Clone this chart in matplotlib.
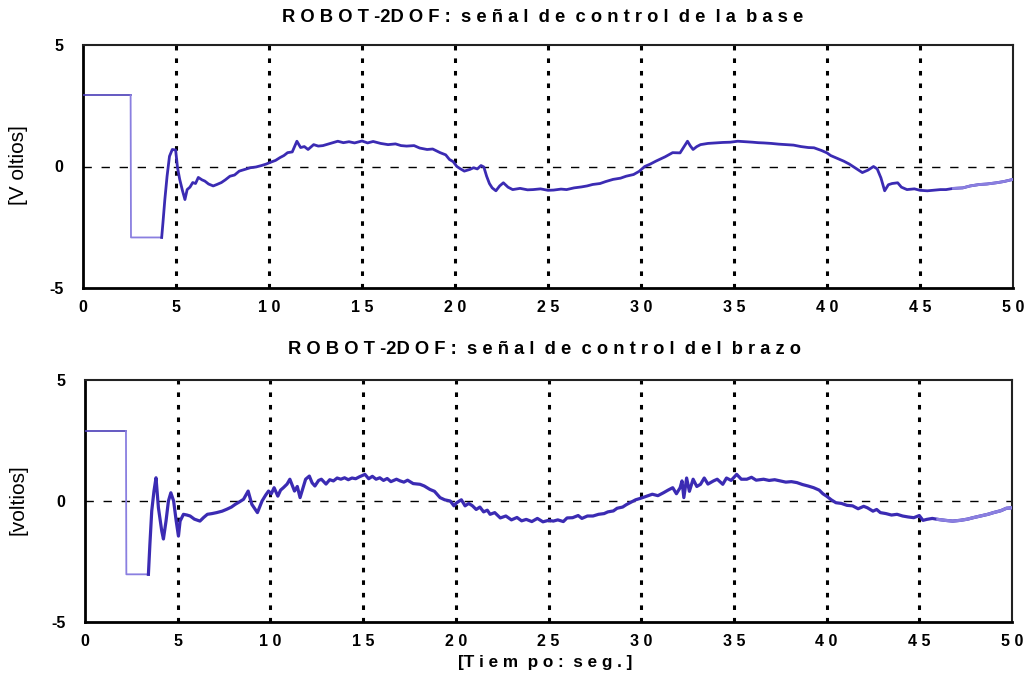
import numpy as np
import matplotlib
matplotlib.use("Agg")
import matplotlib.pyplot as plt

plt.rcParams['font.family'] = ['Liberation Sans', 'DejaVu Sans']

# --- señal de control de la base ---
t_base = [
    0.00, 2.56, 2.58, 4.23, 4.30, 4.40, 4.52, 4.65, 4.80, 4.98,
    5.08, 5.20, 5.35, 5.48, 5.60, 5.75, 5.90, 6.05, 6.20, 6.40,
    6.55, 6.75, 7.00, 7.20, 7.44, 7.65, 7.90, 8.15, 8.40, 8.70,
    9.00, 9.30, 9.60, 9.85, 10.10, 10.35, 10.60, 10.80, 11.00, 11.25,
    11.50, 11.70, 11.90, 12.10, 12.40, 12.65, 12.90, 13.30, 13.70,
    14.0, 14.3, 14.6, 15.0, 15.3, 15.6, 16.0, 16.4, 16.8, 17.1,
    17.4, 17.8, 18.1, 18.5, 18.8, 19.2, 19.5, 19.7, 19.9, 20.1,
    20.3, 20.5, 20.8, 21.0, 21.2, 21.4, 21.55, 21.7, 21.85, 22.0,
    22.2, 22.4, 22.6, 22.85, 23.1, 23.5, 23.9, 24.2, 24.6, 25.0,
    25.3, 25.7, 26.0, 26.4, 26.8, 27.1, 27.4, 27.8, 28.1, 28.5,
    28.9, 29.2, 29.6, 29.9, 30.2, 30.5, 30.8, 31.0, 31.3, 31.7,
    32.1, 32.3, 32.5, 32.65, 32.8, 33.0, 33.2, 33.6, 34.0, 34.4,
    34.8, 35.2, 35.6, 36.0, 36.3, 36.6, 37.0, 37.4, 37.8, 38.2,
    38.6, 39.0, 39.3, 39.7, 40.0, 40.2, 40.5, 40.9, 41.2, 41.4,
    41.65, 41.9, 42.2, 42.5, 42.7, 42.9, 43.1, 43.3, 43.5, 43.8,
    44.0, 44.3, 44.7, 45.0, 45.4, 45.8, 46.1, 46.4, 46.8, 47.3,
    47.7, 48.2, 48.6, 49.1, 49.5, 50.0,
]
u_base = [
    2.93, 2.93, -2.92, -2.92, -2.30, -1.36, -0.40, 0.42, 0.70, 0.68,
    -0.04, -0.53, -1.00, -1.36, -0.95, -0.85, -0.66, -0.70, -0.45, -0.55,
    -0.60, -0.72, -0.80, -0.74, -0.66, -0.55, -0.40, -0.35, -0.19, -0.12,
    -0.05, -0.02, 0.04, 0.10, 0.18, 0.25, 0.37, 0.45, 0.57, 0.60,
    1.04, 0.78, 0.82, 0.70, 0.90, 0.84, 0.86, 0.95, 1.04,
    0.98, 1.02, 0.97, 1.05, 0.97, 1.03, 0.95, 0.90, 0.93, 0.86,
    0.84, 0.86, 0.76, 0.70, 0.72, 0.57, 0.48, 0.29, 0.20, 0.00,
    -0.10, -0.19, -0.12, -0.05, -0.10, 0.04, -0.02, -0.40, -0.70, -0.88,
    -1.00, -0.80, -0.67, -0.85, -0.95, -0.90, -0.96, -0.95, -0.92, -0.98,
    -0.97, -0.93, -0.95, -0.88, -0.84, -0.80, -0.74, -0.70, -0.62, -0.53,
    -0.48, -0.40, -0.33, -0.20, 0.00, 0.10, 0.22, 0.29, 0.40, 0.57,
    0.56, 0.80, 1.04, 0.85, 0.70, 0.82, 0.90, 0.95, 0.97, 0.99,
    1.00, 1.04, 1.02, 1.00, 0.98, 0.97, 0.95, 0.92, 0.90, 0.88,
    0.82, 0.78, 0.77, 0.66, 0.56, 0.45, 0.35, 0.22, 0.10, 0.00,
    -0.12, -0.25, -0.15, 0.00, -0.10, -0.47, -1.00, -0.75, -0.70, -0.67,
    -0.85, -0.95, -0.92, -0.98, -1.00, -0.97, -0.95, -0.95, -0.90, -0.88,
    -0.80, -0.74, -0.72, -0.67, -0.62, -0.53,
]

# --- señal de control del brazo ---
t_brazo = [
    0.00, 2.21, 2.23, 3.42, 3.50, 3.60, 3.72, 3.83, 3.96, 4.14,
    4.23, 4.37, 4.50, 4.63, 4.78, 4.92, 5.04, 5.13, 5.31, 5.50,
    5.67, 5.90, 6.20, 6.40, 6.60, 6.85, 7.10, 7.40, 7.65, 7.90,
    8.10, 8.30, 8.55, 8.80, 9.00, 9.30, 9.55, 9.75, 9.90, 10.05,
    10.20, 10.40, 10.55, 10.70, 10.90, 11.05, 11.30, 11.45, 11.60, 11.90,
    12.10, 12.25, 12.40, 12.60, 12.75, 13.00, 13.20, 13.40, 13.60, 13.80,
    14.00, 14.20, 14.40, 14.60, 14.80, 15.10, 15.30, 15.50, 15.70, 15.90,
    16.10, 16.30, 16.50, 16.80, 17.00, 17.20, 17.40, 17.70, 18.07, 18.30,
    18.60, 18.85, 19.15, 19.40, 19.70, 19.90, 20.05, 20.30, 20.50, 20.70,
    20.90, 21.10, 21.30, 21.50, 21.70, 21.85, 22.10, 22.40, 22.70, 23.00,
    23.30, 23.55, 23.80, 24.10, 24.40, 24.70, 25.00, 25.26, 25.50, 25.80,
    26.00, 26.30, 26.60, 26.80, 27.10, 27.40, 27.70, 28.00, 28.20, 28.50,
    28.70, 29.00, 29.20, 29.40, 29.70, 30.00, 30.30, 30.60, 30.90, 31.20,
    31.45, 31.70, 31.90, 32.10, 32.20, 32.30, 32.45, 32.60, 32.80, 33.00,
    33.20, 33.40, 33.60, 33.90, 34.10, 34.40, 34.60, 34.85, 35.15, 35.40,
    35.70, 35.95, 36.20, 36.60, 36.90, 37.20, 37.50, 37.80, 38.10, 38.40,
    38.70, 39.00, 39.30, 39.60, 39.80, 40.00, 40.25, 40.50, 40.80, 41.10,
    41.40, 41.70, 42.00, 42.20, 42.50, 42.70, 42.90, 43.20, 43.50, 43.80,
    44.10, 44.40, 44.70, 45.00, 45.20, 45.40, 45.70, 46.00, 46.40, 46.80,
    47.20, 47.60, 47.90, 48.30, 48.70, 49.00, 49.40, 49.70, 50.00,
]
u_brazo = [
    2.89, 2.89, -3.03, -3.03, -1.79, -0.41, 0.41, 0.96, -0.28, -1.24,
    -1.57, -0.83, 0.00, 0.34, 0.00, -0.83, -1.45, -0.83, -0.55, -0.58,
    -0.62, -0.75, -0.83, -0.68, -0.55, -0.52, -0.48, -0.42, -0.34, -0.25,
    -0.14, -0.05, 0.07, 0.41, -0.14, -0.48, 0.00, 0.25, 0.41, 0.30,
    0.55, 0.20, 0.45, 0.55, 0.70, 0.90, 0.41, 0.60, 0.14, 0.90,
    1.03, 0.75, 0.62, 0.85, 0.90, 0.70, 0.88, 0.83, 0.95, 0.90,
    0.96, 0.88, 0.95, 0.92, 1.00, 1.10, 0.92, 1.02, 0.90, 0.96,
    0.85, 0.93, 0.80, 0.90, 0.83, 0.78, 0.86, 0.72, 0.69, 0.62,
    0.48, 0.40, 0.14, 0.05, 0.00, -0.20, -0.07, 0.05, -0.20, -0.10,
    -0.20, -0.35, -0.25, -0.45, -0.38, -0.55, -0.48, -0.70, -0.62, -0.78,
    -0.68, -0.82, -0.76, -0.85, -0.72, -0.86, -0.80, -0.83, -0.78, -0.85,
    -0.70, -0.69, -0.60, -0.72, -0.62, -0.62, -0.55, -0.52, -0.45, -0.41,
    -0.30, -0.25, -0.15, -0.07, 0.05, 0.12, 0.20, 0.28, 0.22, 0.34,
    0.45, 0.55, 0.30, 0.55, 0.83, 0.14, 0.95, 0.40, 0.90, 0.60,
    0.69, 0.95, 0.70, 0.83, 0.90, 0.69, 0.95, 0.85, 1.10, 0.90,
    0.90, 0.98, 0.86, 0.90, 0.85, 0.88, 0.83, 0.78, 0.80, 0.76,
    0.68, 0.62, 0.55, 0.45, 0.30, 0.20, 0.05, -0.07, -0.10, -0.18,
    -0.20, -0.32, -0.22, -0.28, -0.42, -0.35, -0.48, -0.52, -0.58, -0.55,
    -0.62, -0.66, -0.69, -0.60, -0.80, -0.76, -0.72, -0.76, -0.80, -0.83,
    -0.80, -0.75, -0.69, -0.62, -0.55, -0.48, -0.40, -0.30, -0.28,
]

x_ticks = [0, 5, 10, 15, 20, 25, 30, 35, 40, 45, 50]
x_ticklabels = ["0", "5", "1 0", "1 5", "2 0", "2 5", "3 0", "3 5", "4 0", "4 5", "5 0"]
y_ticks = [-5, 0, 5]
y_ticklabels = ["-5", "0", "5"]

titles = ["R O B O T -2D O F :  s e ñ a l  d e  c o n t r o l  d e  l a  b a s e",
          "R O B O T -2D O F :  s e ñ a l  d e  c o n t r o l  d e l  b r a z o"]
ylabels = ["[V oltios]", "[voltios]"]
xlabel = "[T i e m  p o :  s e g . ]"

LINE = "#3b2bb3"
LIGHT = "#8a7fe0"

fig = plt.figure(figsize=(10.28, 6.78), dpi=100)
ax_top = fig.add_axes([83 / 1028, 1 - 288 / 678, 930 / 1028, 243 / 678])
ax_bot = fig.add_axes([85 / 1028, 1 - 622 / 678, 927 / 1028, 242 / 678])


def draw(ax, t, u, tail_from, lw):
    t = np.asarray(t)
    u = np.asarray(u)
    # vertical grid and zero reference
    for xv in x_ticks[1:-1]:
        ax.axvline(xv, color="black", lw=2.2, ls=(0, (1.5, 2.6)), zorder=1)
    ax.axhline(0, color="black", lw=1.0, ls=(0, (6, 7)), zorder=1)
    # initial saturated section
    ax.plot(t[:2], u[:2], color="#4a3db8", lw=1.2, zorder=3)
    ax.plot(t[1:4], u[1:4], color=LIGHT, lw=1.3, zorder=3)
    # main response
    ax.plot(t[3:], u[3:], color=LINE, lw=lw, zorder=3, solid_joinstyle="round")
    idx = np.where(t >= tail_from)[0]
    ax.plot(t[idx[0] - 1:], u[idx[0] - 1:], color=LIGHT, lw=lw, zorder=4)
    ax.set_xlim(0, 50)
    ax.set_ylim(-5, 5)
    ax.set_xticks(x_ticks)
    ax.set_xticklabels(x_ticklabels, fontsize=11.5, fontweight="bold")
    ax.set_yticks(y_ticks)
    ax.set_yticklabels(y_ticklabels, fontsize=11.5, fontweight="bold")
    ax.tick_params(axis="both", length=0)
    ax.tick_params(axis="x", pad=9)
    ax.tick_params(axis="y", pad=14)
    for side in ("left", "bottom"):
        ax.spines[side].set_linewidth(2.0)
        ax.spines[side].set_color("black")
    for side in ("top", "right"):
        ax.spines[side].set_linewidth(1.5)
        ax.spines[side].set_color("#222222")


draw(ax_top, t_base, u_base, 47.0, 2.0)
draw(ax_bot, t_brazo, u_brazo, 46.3, 2.3)

fig.text(543 / 1028, 1 - 18 / 678, titles[0], ha="center", va="center",
         fontsize=13.2, fontweight="bold")
fig.text(545 / 1028, 1 - 350 / 678, titles[1], ha="center", va="center",
         fontsize=13.2, fontweight="bold")
fig.text(18 / 1028, 1 - 165 / 678, ylabels[0], rotation=90, ha="center",
         va="center", fontsize=15)
fig.text(18 / 1028, 1 - 500 / 678, ylabels[1], rotation=90, ha="center",
         va="center", fontsize=15)
fig.text(545 / 1028, 1 - 662 / 678, xlabel, ha="center", va="center",
         fontsize=12.3, fontweight="bold")

fig.savefig("out.png", dpi=100, facecolor="white")
